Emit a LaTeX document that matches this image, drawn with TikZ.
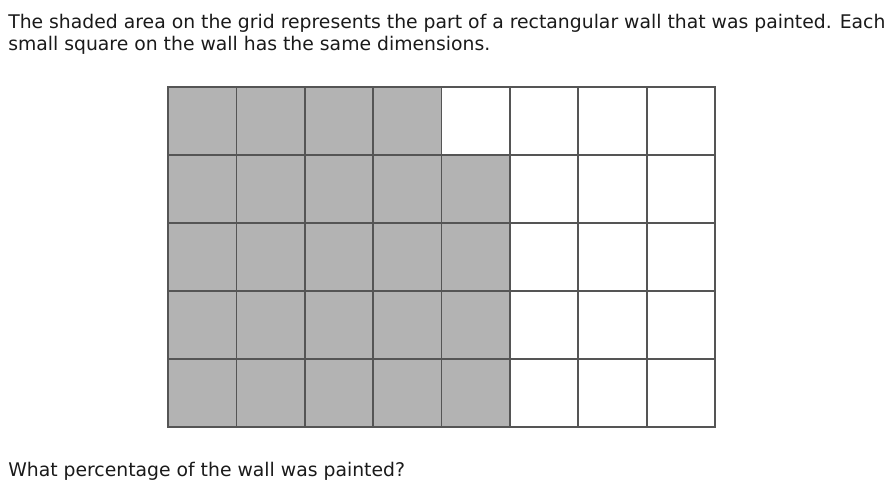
\documentclass[tikz,border=0pt]{standalone}
\usepackage{fontspec}
\setmainfont{DejaVu Sans}
\definecolor{gridline}{HTML}{555555}
\definecolor{paint}{HTML}{B3B3B3}
\definecolor{txt}{HTML}{1A1A1A}
\begin{document}
\begin{tikzpicture}[x=0.75pt,y=-0.75pt,
  cell/.style={draw=gridline, line width=1.3pt, minimum width=51.28pt, minimum height=51pt, inner sep=0pt, outer sep=0pt, anchor=north west},
  painted/.style={cell, fill=paint},
  blank/.style={cell, fill=white},
  txtline/.style={anchor=base west, inner sep=0pt, text=txt, font=\fontsize{14.1pt}{17pt}\selectfont}]
\useasboundingbox (0,0) rectangle (891,491);
\node[txtline] (l1) at (8,29) {The shaded area on the grid represents the part of a rectangular wall that was painted. Each};
\node[txtline] (l2) at (8,51) {small square on the wall has the same dimensions.};
\node[txtline] (q) at (8,476) {What percentage of the wall was painted?};
\foreach \r in {0,...,4}{
  \foreach \c in {0,...,7}{
    \pgfmathtruncatemacro{\lim}{\r==0 ? 4 : 5}
    \ifnum\c<\lim
      \node[painted] (c-\r-\c) at ({168+68.375*\c},{87+68*\r}) {};
    \else
      \node[blank] (c-\r-\c) at ({168+68.375*\c},{87+68*\r}) {};
    \fi
  }
}
\end{tikzpicture}
\end{document}
